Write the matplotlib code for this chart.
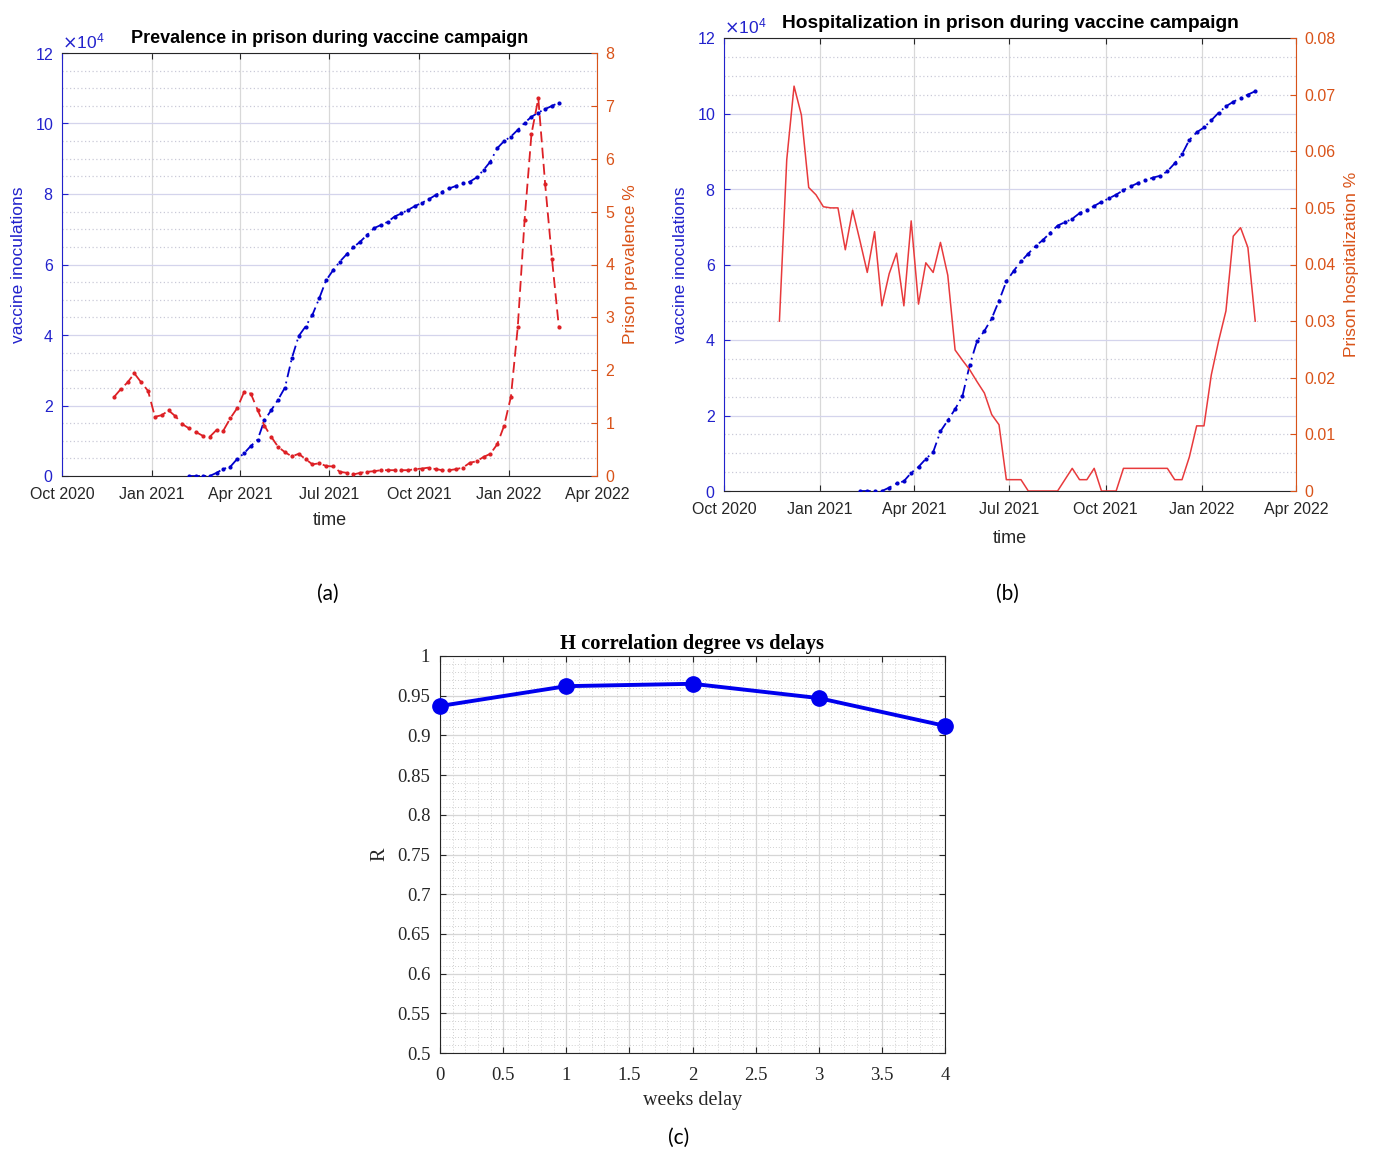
import matplotlib
matplotlib.use("Agg")
import matplotlib.pyplot as plt
import matplotlib.dates as mdates
import numpy as np
import pandas as pd
from matplotlib.ticker import ScalarFormatter, FuncFormatter, MultipleLocator

# ---------------- data ----------------
first_week = "2020-11-23"
n_weeks = 66
vaccine_first_index = 11  # vaccine series starts at this week

prevalence_pct = [1.49, 1.64, 1.77, 1.94, 1.77, 1.61, 1.12, 1.15, 1.24, 1.13, 0.98,
                  0.90, 0.83, 0.76, 0.74, 0.87, 0.86, 1.09, 1.28, 1.58, 1.56, 1.25,
                  0.95, 0.74, 0.55, 0.45, 0.37, 0.42, 0.32, 0.22, 0.24, 0.19, 0.18,
                  0.08, 0.06, 0.03, 0.06, 0.08, 0.09, 0.11, 0.11, 0.11, 0.11, 0.11,
                  0.13, 0.14, 0.16, 0.13, 0.11, 0.11, 0.13, 0.16, 0.25, 0.28, 0.36,
                  0.42, 0.60, 0.95, 1.50, 2.82, 4.85, 6.47, 7.14, 5.52, 4.10, 2.82]

hospitalization_pct = [0.0300, 0.0585, 0.0715, 0.0664, 0.0536, 0.0523, 0.0502, 0.0500,
                       0.0500, 0.0426, 0.0496, 0.0442, 0.0386, 0.0458, 0.0327, 0.0384,
                       0.0420, 0.0327, 0.0477, 0.0330, 0.0403, 0.0386, 0.0439, 0.0381,
                       0.0249, 0.0231, 0.0214, 0.0193, 0.0173, 0.0135, 0.0117, 0.0020,
                       0.0020, 0.0020, 0.0, 0.0, 0.0, 0.0, 0.0, 0.0020, 0.0040, 0.0020,
                       0.0020, 0.0040, 0.0, 0.0, 0.0, 0.0040, 0.0040, 0.0040, 0.0040,
                       0.0040, 0.0040, 0.0040, 0.0020, 0.0020, 0.0060, 0.0115, 0.0115,
                       0.0205, 0.0265, 0.0318, 0.0450, 0.0465, 0.0430, 0.0300]

vaccine_inoculations = [0, 0, 0, 0, 900, 2000, 2600, 4800, 6400, 8500, 10300, 15800,
                        18700, 21700, 25100, 33400, 39700, 42400, 45700, 50400, 55500,
                        58300, 60800, 62900, 64900, 66500, 68400, 70300, 71200, 72100,
                        73600, 74500, 75500, 76600, 77500, 78500, 79700, 80700, 81600,
                        82300, 83000, 83500, 84700, 86800, 89200, 93000, 95000, 96300,
                        98200, 100200, 101900, 103100, 104100, 105000, 105900]

date_ticks = ["2020-10-01", "2021-01-01", "2021-04-01", "2021-07-01",
              "2021-10-01", "2022-01-01", "2022-04-01"]

weeks_delay = [0, 1, 2, 3, 4]
R_values = [0.937, 0.962, 0.965, 0.947, 0.912]

# ---------------- style ----------------
BLUE = "#0000cc"
AXBLUE = "#2222cc"
ORANGE = "#d95319"
RED_A = "#dd2025"
RED_B = "#e83a3c"
DARK = "#262626"
SANS = ["Liberation Sans", "DejaVu Sans"]
SERIF = ["Liberation Serif", "DejaVu Serif"]

dates = pd.date_range(first_week, periods=n_weeks, freq="7D")
vdates = dates[vaccine_first_index:]
tick_dates = pd.to_datetime(date_ticks)

fig = plt.figure(figsize=(13.75, 11.52), dpi=100)
W, H = 1375.0, 1152.0


def rect(l, t, r, b):
    return [l / W, 1 - b / H, (r - l) / W, (b - t) / H]


def gfmt(v, p):
    return f"{v:g}"


def time_panel(r, title, title_size, right_vals, right_max, right_step,
               right_label, red_kwargs, xlabelpad):
    ax = fig.add_axes(r)
    ax.plot(vdates, vaccine_inoculations, color=BLUE, ls=(0, (6, 2.5, 1, 2.5)),
            marker=".", ms=4, lw=1.3, zorder=3)
    ax2 = ax.twinx()
    ax2.plot(dates, right_vals, **red_kwargs)

    ax.set_xlim(tick_dates[0], tick_dates[-1])
    ax.set_xticks(tick_dates)
    ax.xaxis.set_major_formatter(mdates.DateFormatter("%b %Y"))

    ax.set_ylim(0, 120000)
    ax.set_yticks(np.arange(0, 120001, 20000))
    ax.yaxis.set_minor_locator(MultipleLocator(5000))
    sf = ScalarFormatter(useMathText=True)
    sf.set_powerlimits((4, 4))
    ax.yaxis.set_major_formatter(sf)
    ot = ax.yaxis.get_offset_text()
    ot.set_color(AXBLUE)
    ot.set_fontsize(12.5)
    ot.set_family(SANS)

    ax2.set_ylim(0, right_max)
    ax2.set_yticks(np.arange(0, right_max + right_step / 2, right_step))
    ax2.yaxis.set_major_formatter(FuncFormatter(gfmt))

    ax.set_axisbelow(True)
    ax.grid(axis="x", which="major", color="#d8d8d8", lw=0.9, ls="-")
    ax.grid(axis="y", which="major", color="#d4d4ec", lw=0.9, ls="-")
    ax.grid(axis="y", which="minor", color="#cacad8", lw=0.9, ls=(0, (1, 2)))

    for s in ["top", "bottom"]:
        ax.spines[s].set_color(DARK)
        ax2.spines[s].set_visible(False)
    ax.spines["left"].set_color(AXBLUE)
    ax.spines["right"].set_visible(False)
    ax2.spines["left"].set_visible(False)
    ax2.spines["right"].set_color(ORANGE)

    ax.tick_params(axis="x", direction="in", colors=DARK, labelsize=11.5,
                   top=True, length=4, pad=8)
    ax.tick_params(axis="y", which="major", direction="in", colors=AXBLUE,
                   labelsize=11.5, length=4, pad=6)
    ax.tick_params(axis="y", which="minor", length=0)
    ax2.tick_params(axis="y", direction="in", colors=ORANGE, labelsize=11.5,
                    length=4, pad=6)
    for lab in ax.get_xticklabels() + ax.get_yticklabels() + ax2.get_yticklabels():
        lab.set_family(SANS)

    ax.set_xlabel("time", fontsize=13, color=DARK, family=SANS, labelpad=xlabelpad)
    ax.set_ylabel("vaccine inoculations", fontsize=12.5, color=AXBLUE,
                  family=SANS, labelpad=6)
    ax2.set_ylabel(right_label, fontsize=12.5, color=ORANGE, family=SANS,
                   labelpad=6)
    ax.set_title(title, fontsize=title_size, fontweight="bold", family=SANS,
                 color="black", pad=7)
    return ax, ax2


# panel (a)
time_panel(rect(62, 53, 597, 476),
           "Prevalence in prison during vaccine campaign", 13,
           prevalence_pct, 8, 1, "Prison prevalence %",
           dict(color=RED_A, ls=(0, (6, 3)), marker=".", ms=4, lw=1.3, zorder=3),
           7)

# panel (b)
time_panel(rect(724, 38, 1296, 491),
           "Hospitalization in prison during vaccine campaign", 13.8,
           hospitalization_pct, 0.08, 0.01, "Prison hospitalization %",
           dict(color=RED_B, ls="-", lw=1.1, zorder=3),
           9)

# panel (c)
axc = fig.add_axes(rect(440, 656, 945, 1053))
axc.plot(weeks_delay, R_values, color="#0000ee", lw=2.8, marker="o", ms=11,
         mfc="#0000ee", mec="#0000ee", clip_on=False, zorder=4)
axc.set_xlim(0, 4)
axc.set_ylim(0.5, 1)
axc.xaxis.set_major_locator(MultipleLocator(0.5))
axc.yaxis.set_major_locator(MultipleLocator(0.05))
axc.xaxis.set_minor_locator(MultipleLocator(0.1))
axc.yaxis.set_minor_locator(MultipleLocator(0.01))
axc.xaxis.set_major_formatter(FuncFormatter(gfmt))
axc.yaxis.set_major_formatter(FuncFormatter(gfmt))
axc.set_axisbelow(True)
axc.grid(which="major", color="#d6d6d6", lw=0.9, ls="-")
axc.grid(which="minor", color="#d0d0d0", lw=0.7, ls=(0, (1, 2)))
for s in axc.spines.values():
    s.set_color(DARK)
axc.tick_params(which="major", direction="in", top=True, right=True,
                length=4, colors=DARK, labelsize=13.5, pad=7)
axc.tick_params(axis="x", which="major", pad=10)
axc.tick_params(which="minor", length=0)
for lab in axc.get_xticklabels() + axc.get_yticklabels():
    lab.set_family(SERIF)
axc.set_title("H correlation degree vs delays", fontsize=14.8,
              fontweight="bold", family=SERIF, color="black", pad=5)
axc.set_xlabel("weeks delay", fontsize=14.5, family=SERIF, color=DARK, labelpad=5)
axc.set_ylabel("R", fontsize=14.5, family=SERIF, color=DARK, labelpad=6)

# panel letters
for x, y, s in [(328, 594, "(a)"), (1007, 594, "(b)"), (679, 1138, "(c)")]:
    fig.text(x / W, 1 - y / H, s, ha="center", va="center", fontsize=15,
             family=["Lato", "DejaVu Sans"], color="black")

fig.savefig("out.png", dpi=100, facecolor="white")
